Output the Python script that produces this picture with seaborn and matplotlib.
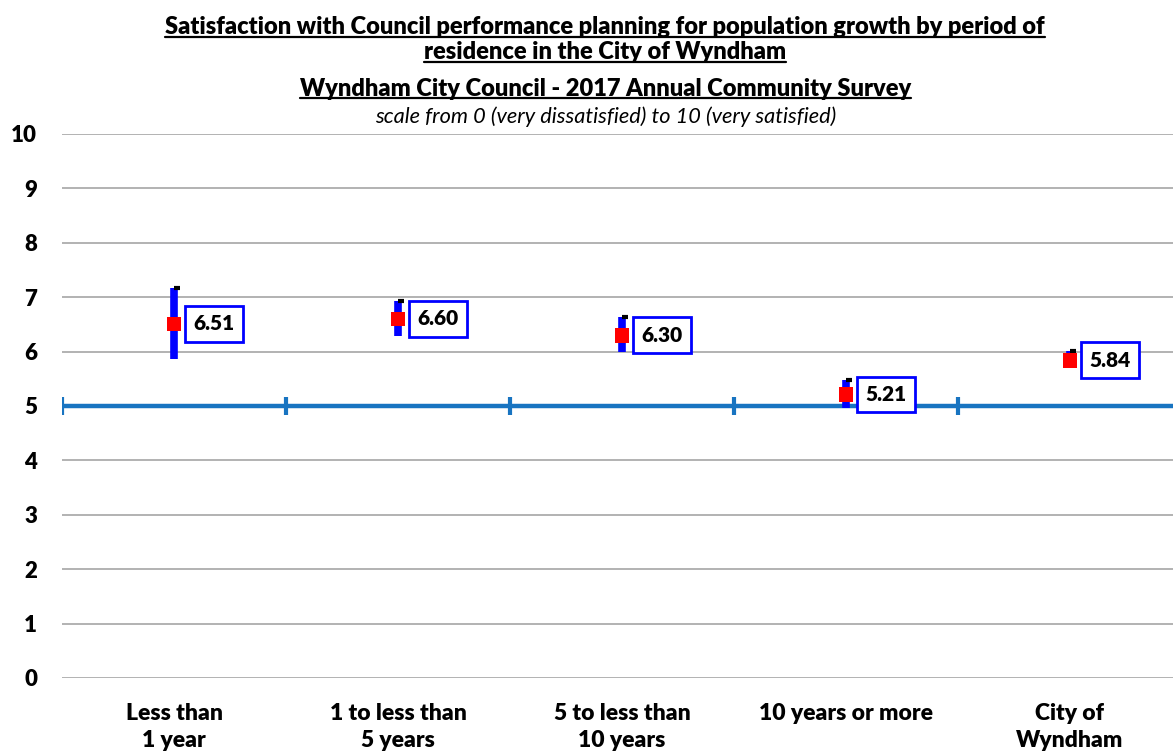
import numpy as np
import pandas as pd
import matplotlib
matplotlib.use('Agg')
import matplotlib.pyplot as plt
import seaborn as sns
from matplotlib.lines import Line2D

# Data
categories = ['Less than\n1 year', '1 to less than\n5 years', '5 to less than\n10 years',
              '10 years or more', 'City of\nWyndham']
means = [6.51, 6.60, 6.30, 5.21, 5.84]
lower = [5.86, 6.28, 5.99, 4.96, 5.70]
upper = [7.16, 6.93, 6.63, 5.48, 6.01]
midpoint = 5

df = pd.DataFrame({'period': categories, 'mean': means, 'lower': lower, 'upper': upper})

sns.set_style('white')
plt.rcParams['font.family'] = ['Lato', 'DejaVu Sans']
plt.rcParams['text.color'] = 'black'
plt.rcParams['xtick.color'] = 'black'
plt.rcParams['ytick.color'] = 'black'

fig = plt.figure(figsize=(11.73, 7.54), dpi=100)
ax = fig.add_axes([0.0529, 0.1008, 0.9471, 0.7215])

xs = np.arange(len(categories))
W = 'heavy'

# grid lines
for v in range(0, 11):
    ax.axhline(v, color='#a6a6a6', lw=1.2, zorder=0)

# midpoint reference line with boundary ticks
ax.axhline(midpoint, color='#1874c1', lw=3.2, zorder=1)
bounds = np.arange(len(categories) + 1) - 0.5
ax.plot(bounds, [midpoint] * len(bounds), ls='none', marker='|', ms=13, mew=3,
        color='#1874c1', zorder=1)

# confidence intervals
ax.vlines(xs, df['lower'], df['upper'], color='#0000ff', lw=5.5, zorder=2)
ax.plot(xs + 0.015, df['upper'], ls='none', marker='_', ms=5, mew=3, color='black', zorder=2)

sns.scatterplot(data=df, x=xs, y='mean', marker='s', s=110, color='#ff0000',
                edgecolor='none', zorder=3, ax=ax, legend=False)

for x, m in zip(xs, means):
    ax.annotate(f'{m:.2f}', (x, m), xytext=(14, 0), textcoords='offset points',
                ha='left', va='center', fontsize=15, fontweight=W, color='black',
                bbox=dict(boxstyle='square,pad=0.4', fc='white', ec='#0000ff', lw=2),
                zorder=4)

ax.set_xlim(-0.5, 4.46)
ax.set_ylim(0, 10)
ax.set_yticks(range(0, 11))
ax.set_yticklabels([str(v) for v in range(0, 11)], fontsize=16, fontweight=W)
ax.set_xticks(xs)
ax.set_xticklabels(categories, fontsize=16.5, fontweight=W, linespacing=1.35)
ax.tick_params(axis='y', pad=18, length=0)
ax.tick_params(axis='x', pad=18, length=0)
ax.set_xlabel('')
ax.set_ylabel('')
sns.despine(ax=ax, left=True, bottom=True, top=True, right=True)

# titles
cx = 0.516
t1 = fig.text(cx, 0.964, 'Satisfaction with Council performance planning for population growth by period of',
              ha='center', va='center', fontsize=17, fontweight=W)
t2 = fig.text(cx, 0.931, 'residence in the City of Wyndham',
              ha='center', va='center', fontsize=17, fontweight=W)
t3 = fig.text(cx, 0.882, 'Wyndham City Council - 2017 Annual Community Survey',
              ha='center', va='center', fontsize=17, fontweight=W)
fig.text(cx, 0.845, 'scale from 0 (very dissatisfied) to 10 (very satisfied)',
         ha='center', va='center', fontsize=15.7, fontstyle='italic')

# underline the bold title lines
fig.canvas.draw()
renderer = fig.canvas.get_renderer()
inv = fig.transFigure.inverted()
for t in (t1, t2, t3):
    bb = t.get_window_extent(renderer)
    (x0, y0), (x1, _) = inv.transform([(bb.x0, bb.y0 + 1.5), (bb.x1, bb.y0)])
    fig.add_artist(Line2D([x0, x1], [y0, y0], transform=fig.transFigure, color='black', lw=1.6))

fig.savefig('out.png', dpi=100)
